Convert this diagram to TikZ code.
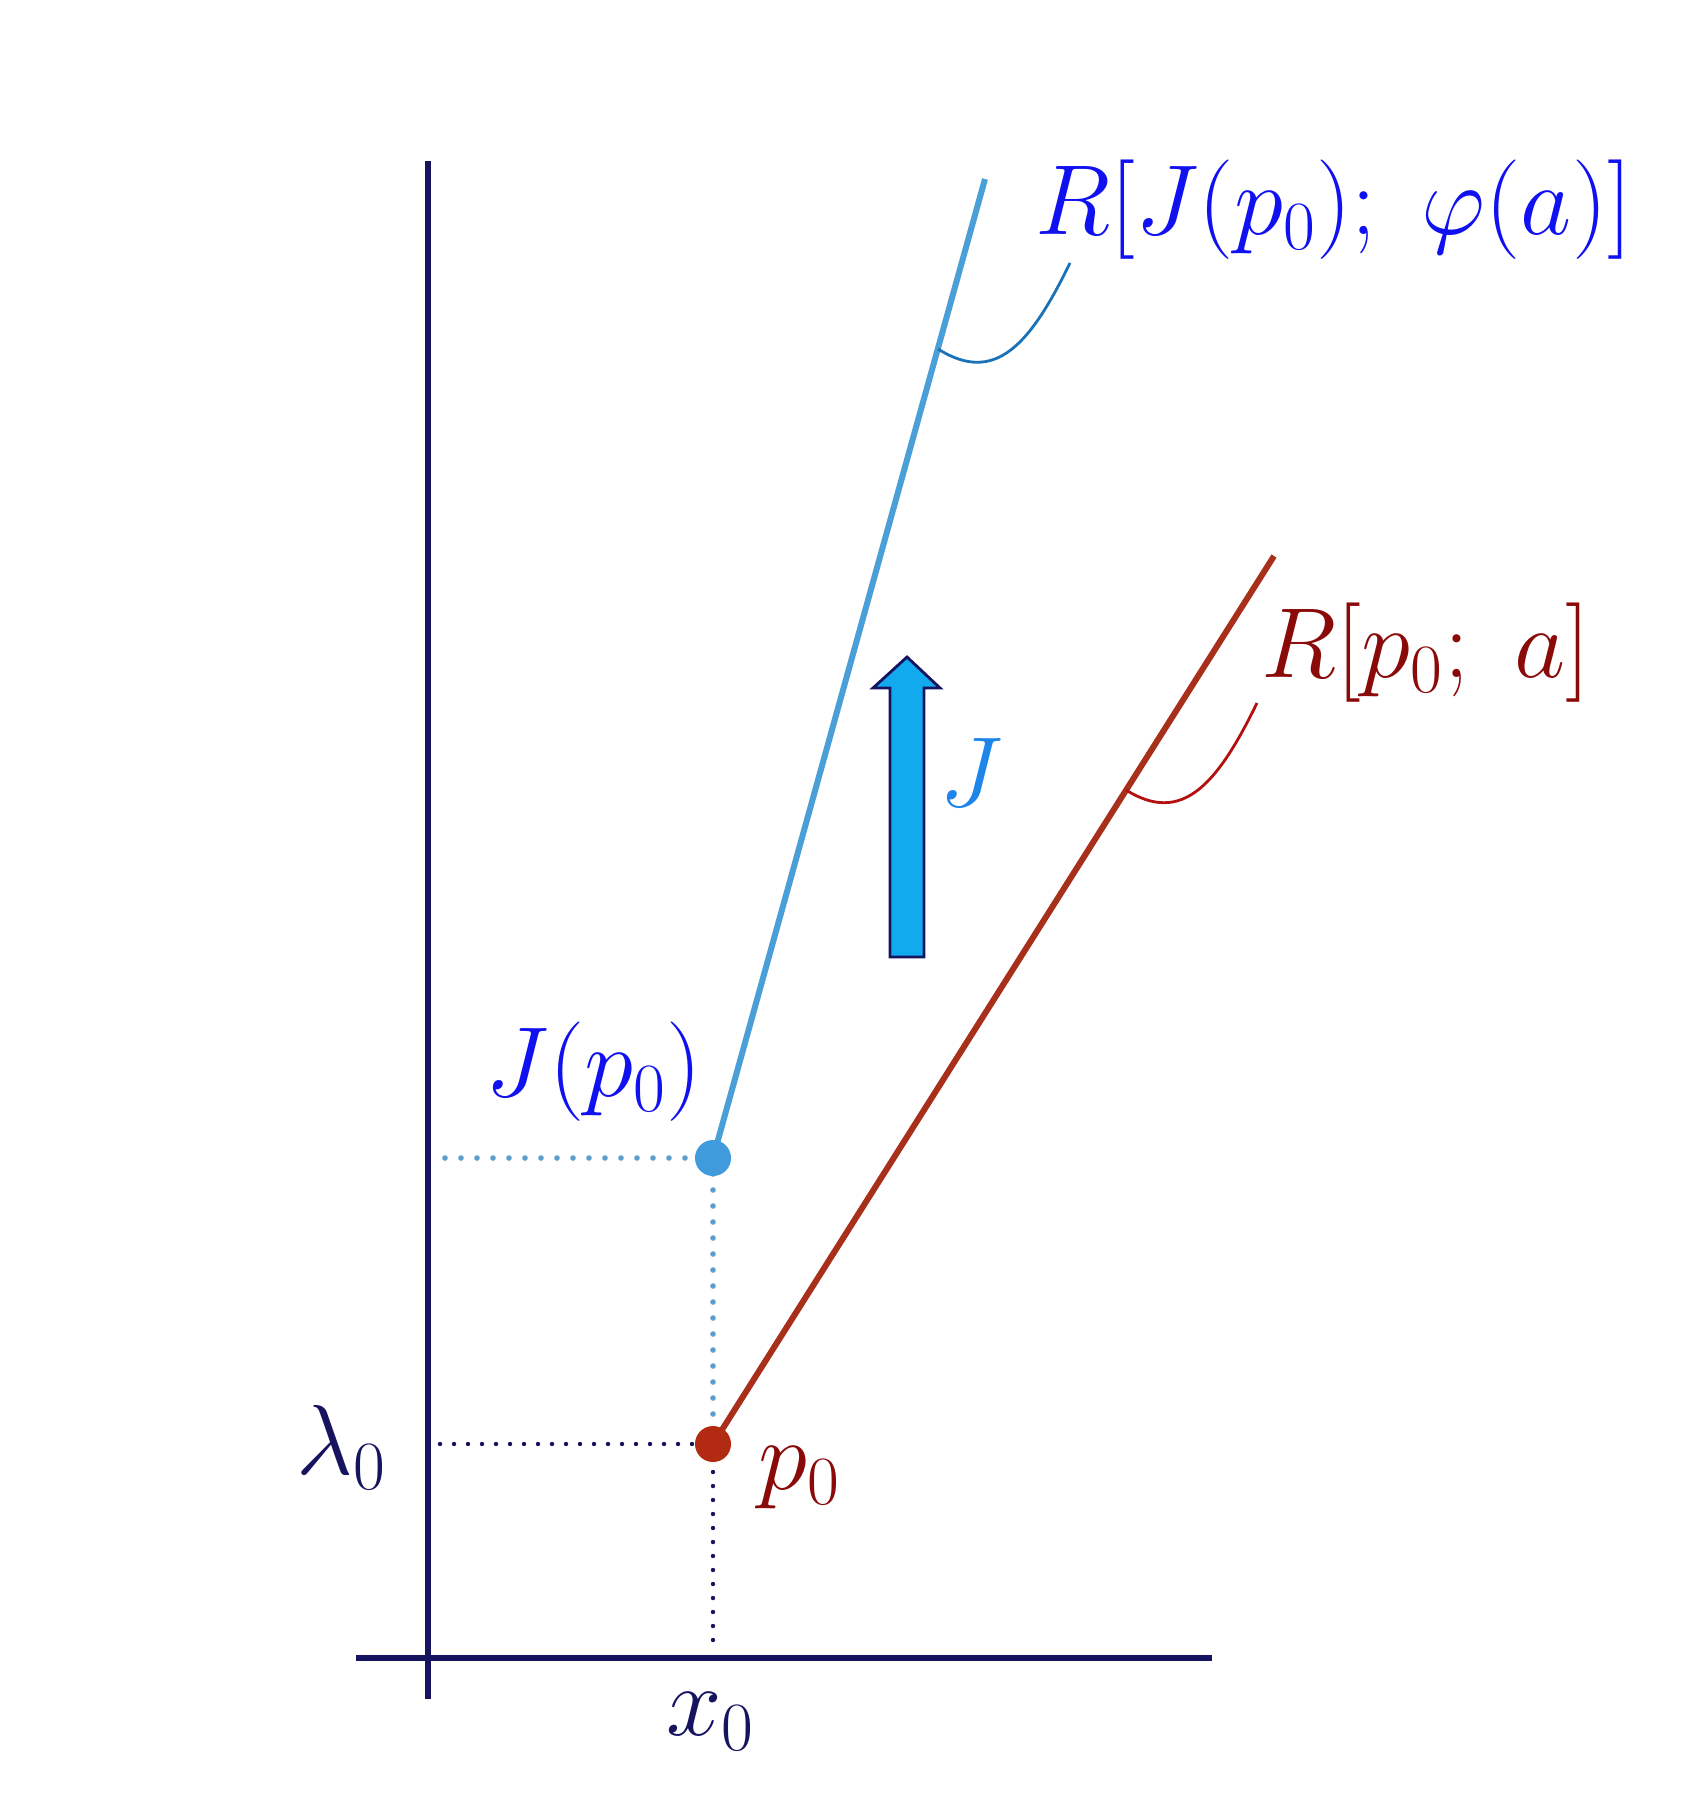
\documentclass[tikz,border=0pt]{standalone}
\begin{document}
\begin{tikzpicture}[x=0.25pt,y=-0.25pt,
  axis/.style={draw=axisc,line width=1.3pt},
  bline/.style={draw=blinec,line width=1.5pt},
  rline/.style={draw=rlinec,line width=1.5pt},
  bdots/.style={draw=bdotc,line width=1.4pt,line cap=round,dash pattern=on 0pt off 4pt},
  ddots/.style={draw=axisc,line width=1.1pt,line cap=round,dash pattern=on 0pt off 3.5pt},
  dotnode/.style={circle,inner sep=0pt,minimum size=9pt},
  lbl/.style={font=\fontsize{23.5}{28}\selectfont},
  callb/.style={draw=callbc,line width=0.7pt},
  callr/.style={draw=callrc,line width=0.7pt}]
\definecolor{axisc}{HTML}{16145E}
\definecolor{blinec}{HTML}{4A9FD8}
\definecolor{rlinec}{HTML}{A8301A}
\definecolor{bdotc}{HTML}{5A9FCF}
\definecolor{bdotfill}{HTML}{3F9BDC}
\definecolor{rdotfill}{HTML}{B32A12}
\definecolor{blabc}{HTML}{1010F0}
\definecolor{rlabc}{HTML}{8A0A0A}
\definecolor{jlabc}{HTML}{1E86EA}
\definecolor{arrfill}{HTML}{12AAEE}
\definecolor{callbc}{HTML}{1A72B8}
\definecolor{callrc}{HTML}{B41010}
\useasboundingbox (0,0) rectangle (1687,1808);
% key points
\coordinate (P) at (713,1444);
\coordinate (Q) at (713,1158);
\coordinate (yb) at (428,1699);
\coordinate (yt) at (428,161);
\coordinate (xl) at (356,1658);
\coordinate (xr) at (1212,1658);
\coordinate (bend) at (985,179);
\coordinate (rend) at (1274,556);
\coordinate (bh) at (445,1158);
\coordinate (dh) at (440,1444);
\coordinate (dv) at (713,1648);
\coordinate (cbs) at (1070,263);
\coordinate (cbe) at (938,349);
\coordinate (crs) at (1257,703);
\coordinate (cre) at (1126,790);
% axes
\draw[axis] (yb) -- (yt);
\draw[axis] (xl) -- (xr);
% dotted guides
\draw[bdots] (bh) -- (Q);
\draw[bdots] (Q) -- (P);
\draw[ddots] (dh) -- (P);
\draw[ddots] (P) -- (dv);
% rays
\draw[bline] (Q) -- (bend);
\draw[rline] (P) -- (rend);
% callouts
\draw[callb] (cbs) .. controls (1030,345) and (995,385) .. (cbe);
\draw[callr] (crs) .. controls (1217,785) and (1182,825) .. (cre);
% points
\node[dotnode,fill=bdotfill] (jp) at (Q) {};
\node[dotnode,fill=rdotfill] (p0) at (P) {};
% arrow J
\draw[draw=axisc,fill=arrfill,line width=0.7pt,line join=miter]
  (890,957) -- (890,688) -- (873,688) -- (907,657) -- (940,688) -- (924,688) -- (924,957) -- cycle;
% labels
\node[lbl,text=blabc] (lb) at (1334,210) {$R[J(p_0);\ \varphi(a)]$};
\node[lbl,text=rlabc] (lr) at (1426,653) {$R[p_0;\ a]$};
\node[lbl,text=jlabc] (lj) at (971,772) {$J$};
\node[lbl,text=blabc] (ljp) at (594,1072) {$J(p_0)$};
\node[lbl,text=axisc] (llam) at (342,1447) {$\lambda_0$};
\node[lbl,text=rlabc] (lp0) at (800,1478) {$p_0$};
\node[lbl,text=axisc] (lx0) at (711,1722) {$x_0$};
\end{tikzpicture}
\end{document}
